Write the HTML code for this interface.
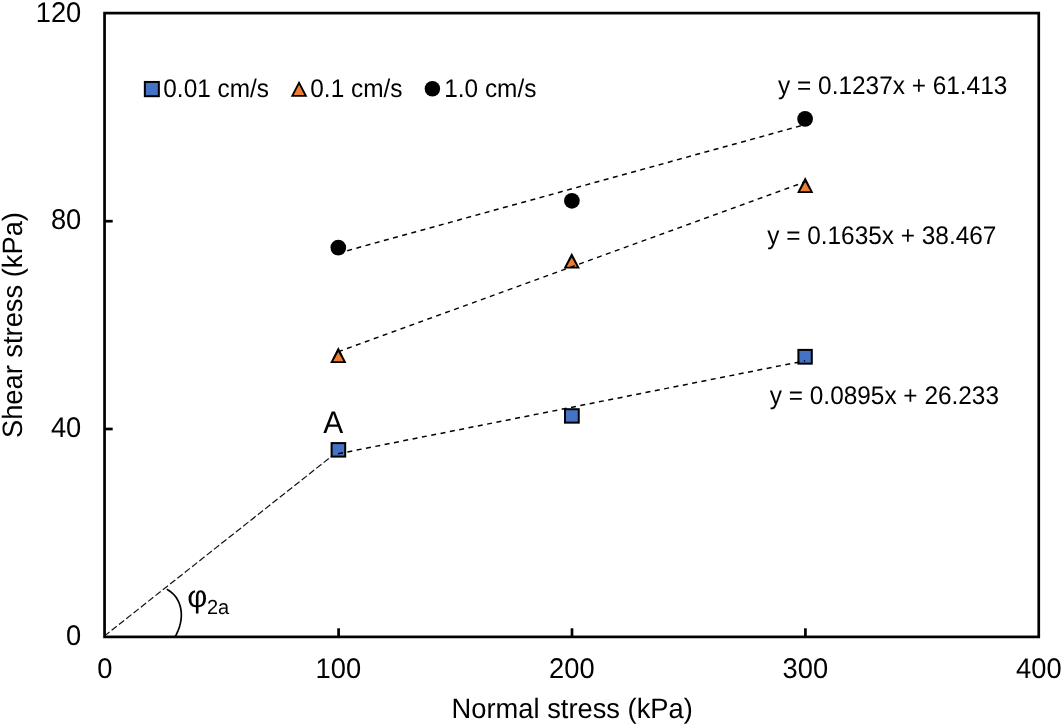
<!DOCTYPE html>
<html><head><meta charset="utf-8">
<style>
html,body{margin:0;padding:0;background:#fff;}
body{width:1062px;height:726px;overflow:hidden;}
svg{display:block;will-change:transform;}
text{font-family:"Liberation Sans",sans-serif;fill:#000;text-rendering:geometricPrecision;}
.t{font-size:27.3px;}
.s{font-size:24.4px;}
</style></head>
<body>
<svg width="1062" height="726" viewBox="0 0 1062 726">
<rect x="0" y="0" width="1062" height="726" fill="#fff"/>
<!-- origin dashed line -->
<line x1="104.55" y1="635.9" x2="338.7" y2="450.7" stroke="#111" stroke-width="1.2" stroke-dasharray="6.6 2.72" stroke-dashoffset="0.28"/>
<!-- frame -->
<rect x="104.55" y="13.1" width="934.2" height="623.8" fill="none" stroke="#000" stroke-width="2.7"/>
<!-- ticks -->
<g stroke="#000" stroke-width="2.7">
<line x1="104.55" y1="429.0" x2="112.7" y2="429.0"/>
<line x1="104.55" y1="221.2" x2="112.7" y2="221.2"/>
<line x1="338.6" y1="636.9" x2="338.6" y2="628.3"/>
<line x1="572.0" y1="636.9" x2="572.0" y2="628.3"/>
<line x1="805.4" y1="636.9" x2="805.4" y2="628.3"/>
</g>
<!-- y tick labels -->
<g class="t" text-anchor="end">
<text transform="translate(81.3,21.5) scale(1,1.045)">120</text>
<text transform="translate(81.3,229.4) scale(1,1.045)">80</text>
<text transform="translate(81.3,437.3) scale(1,1.045)">40</text>
<text transform="translate(81.3,645.3) scale(1,1.045)">0</text>
</g>
<!-- x tick labels -->
<g class="t" text-anchor="middle">
<text transform="translate(104.8,678.0) scale(1,1.045)">0</text>
<text transform="translate(338.3,678.0) scale(1,1.045)">100</text>
<text transform="translate(571.8,678.0) scale(1,1.045)">200</text>
<text transform="translate(805.3,678.0) scale(1,1.045)">300</text>
<text transform="translate(1038.8,678.0) scale(1,1.045)">400</text>
</g>
<!-- axis titles -->
<text class="t" text-anchor="middle" transform="translate(572.2,718.2) scale(1,1.025)">Normal stress (kPa)</text>
<text class="t" text-anchor="middle" transform="translate(22,325.05) rotate(-90) scale(1,1.025)">Shear stress (kPa)</text>

<!-- markers -->
<g stroke="#000" stroke-width="2">
<!-- circles -->
<circle cx="338.3" cy="247.6" r="7.85" fill="#000" stroke="none"/>
<circle cx="571.9" cy="200.8" r="7.85" fill="#000" stroke="none"/>
<circle cx="805.1" cy="118.9" r="7.85" fill="#000" stroke="none"/>
<!-- triangles -->
<polygon stroke="none" points="338.30,347.10 330.15,363.00 346.45,363.00" fill="#000"/><polygon stroke="none" points="338.30,351.90 333.20,361.20 343.40,361.20" fill="#ED7D31"/>
<polygon stroke="none" points="571.75,252.70 563.60,268.60 579.90,268.60" fill="#000"/><polygon stroke="none" points="571.75,257.50 566.65,266.80 576.85,266.80" fill="#ED7D31"/>
<polygon stroke="none" points="805.20,177.10 797.05,193.00 813.35,193.00" fill="#000"/><polygon stroke="none" points="805.20,181.90 800.10,191.20 810.30,191.20" fill="#ED7D31"/>
<!-- squares -->
<rect x="331.6" y="443.1" width="13.6" height="13.5" fill="#4472C4"/>
<rect x="565" y="409.2" width="13.75" height="13.45" fill="#4472C4"/>
<rect x="798.4" y="349.9" width="13.4" height="13.75" fill="#4472C4"/>
</g>

<!-- trendlines -->
<g stroke="#000" stroke-width="1.5" stroke-dasharray="5 4.5" fill="none">
<line x1="338.06" y1="253.2" x2="805.1" y2="124.6"/>
<line x1="338.06" y1="351.8" x2="805.1" y2="181.9"/>
<line x1="338.06" y1="453.8" x2="805.1" y2="360.8"/>
</g>

<!-- legend -->
<g stroke="#000" stroke-width="2">
<rect x="144.85" y="81.95" width="14" height="14.25" fill="#4472C4"/>
<polygon stroke="none" points="299.05,80.70 290.75,96.80 307.35,96.80" fill="#000"/><polygon stroke="none" points="299.05,84.75 293.75,95.00 304.35,95.00" fill="#ED7D31"/>
<circle cx="432.4" cy="88.76" r="7.75" fill="#000" stroke="none"/>
</g>
<g class="s">
<text transform="translate(163.3,97.15) scale(1,1.045)">0.01 cm/s</text>
<text transform="translate(310.3,97.15) scale(1,1.045)">0.1 cm/s</text>
<text transform="translate(444.2,97.15) scale(1,1.045)">1.0 cm/s</text>
</g>

<!-- equations -->
<g class="s">
<text transform="translate(778.1,94.2) scale(1,1.04)">y = 0.1237x + 61.413</text>
<text transform="translate(767.2,244.2) scale(1,1.04)">y = 0.1635x + 38.467</text>
<text transform="translate(769.8,403.8) scale(1,1.04)">y = 0.0895x + 26.233</text>
</g>

<!-- A label -->
<text style="font-size:30px" transform="translate(323.2,432.7) scale(1,1.04)">A</text>

<!-- angle arc -->
<path d="M166.76,589.34 L168.81,590.46 L170.74,591.79 L172.54,593.31 L174.19,594.99 L175.68,596.83 L177.00,598.79 L178.14,600.86 L179.11,603.01 L179.90,605.23 L180.51,607.50 L180.95,609.81 L181.22,612.13 L181.33,614.46 L181.28,616.78 L181.09,619.09 L180.76,621.38 L180.30,623.65 L179.72,625.89 L179.02,628.10 L178.21,630.29 L177.29,632.45 L176.27,634.59 L175.15,636.72" fill="none" stroke="#000" stroke-width="1.7" stroke-linejoin="round"/>
<text style="font-size:31px" transform="translate(187.2,607.2) scale(1,1)">φ</text>
<text style="font-size:20px" transform="translate(207.0,613.8) scale(1,1.02)">2a</text>
</svg>
</body></html>
